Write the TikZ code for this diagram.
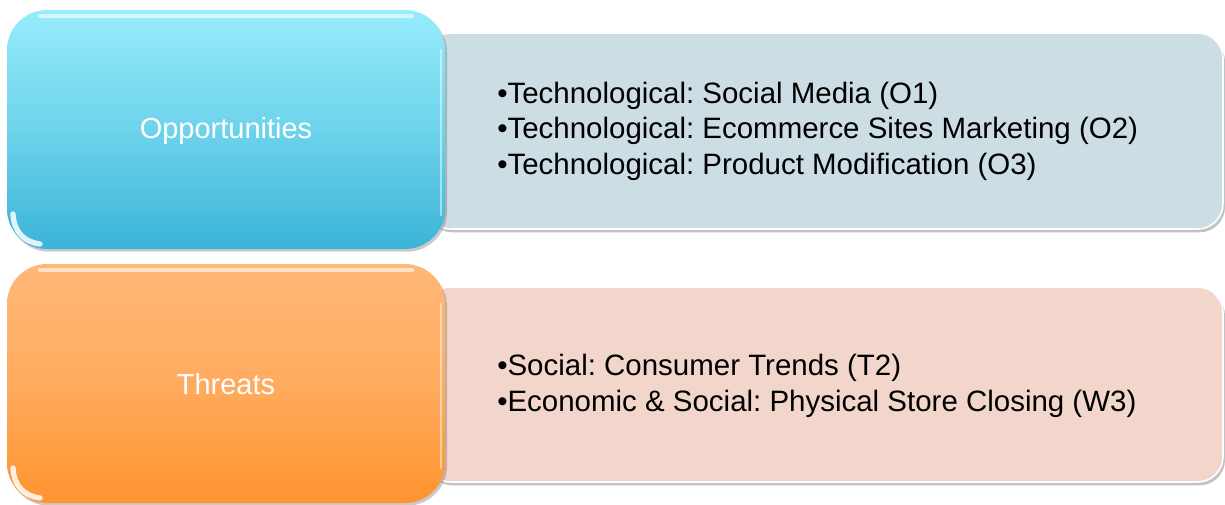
\documentclass[tikz,border=0pt]{standalone}
\usepackage{fontspec}
\setmainfont{Liberation Sans}
\usetikzlibrary{shadows}
\frenchspacing
\definecolor{cyanTop}{HTML}{97ECFB}
\definecolor{cyanBot}{HTML}{3BB4D8}
\definecolor{orTop}{HTML}{FFB878}
\definecolor{orBot}{HTML}{FF932F}
\definecolor{blueFill}{HTML}{CCDDE4}
\definecolor{pinkFill}{HTML}{F2D6CB}
\tikzset{
  catbox/.style={rounded corners=30pt, drop shadow={shadow xshift=1.5pt, shadow yshift=-2pt, opacity=0.35, fill=black!60}},
  listbox/.style={rounded corners=19pt, draw=white, line width=1.2pt, drop shadow={shadow xshift=1.5pt, shadow yshift=-2.5pt, opacity=0.4, fill=black!60}},
  cattext/.style={text=white, font=\fontsize{21.75pt}{26pt}\selectfont, inner sep=0pt},
  listtext/.style={text=black, font=\fontsize{22.1pt}{26.6pt}\selectfont, align=left, inner sep=0pt, anchor=west},
  gloss/.style={white, line cap=round, opacity=0.6, line width=3pt}
}
\begin{document}
\begin{tikzpicture}[x=0.75pt,y=-0.75pt]
\useasboundingbox (0,0) rectangle (1225,504);
% right list boxes
\path[listbox, fill=blueFill] (425,33) rectangle (1223,229);
\path[listbox, fill=pinkFill] (425,287) rectangle (1223,482);
% left category boxes
\path[catbox, top color=cyanTop, bottom color=cyanBot, middle color=cyanTop!55!cyanBot] (7,10) rectangle (445,249);
\path[catbox, top color=orTop, bottom color=orBot, middle color=orTop!65!orBot] (7,264) rectangle (445,503);
% gloss highlights
\draw[gloss] (40,16) -- (412,16);
\draw[gloss, line width=2pt, opacity=0.5] (441,50) -- (441,215);
\draw[gloss, line width=4pt, opacity=0.85] (13,214) .. controls (14,232) and (24,242) .. (40,244);
\draw[gloss] (40,270) -- (412,270);
\draw[gloss, line width=2pt, opacity=0.5] (441,304) -- (441,468);
\draw[gloss, line width=4pt, opacity=0.85] (13,468) .. controls (14,486) and (24,496) .. (40,498);
% texts
\node[cattext, anchor=base] (opp) at (226,138) {Opportunities};
\node[cattext, anchor=base] (thr) at (226,394) {Threats};
\node[listtext] (olist) at (497,131) {•Technological: Social Media (O1)\\•Technological: Ecommerce Sites Marketing (O2)\\•Technological: Product Modification (O3)};
\node[listtext] (tlist) at (497,386) {•Social: Consumer Trends (T2)\\•Economic \& Social: Physical Store Closing (W3)};
\end{tikzpicture}
\end{document}
